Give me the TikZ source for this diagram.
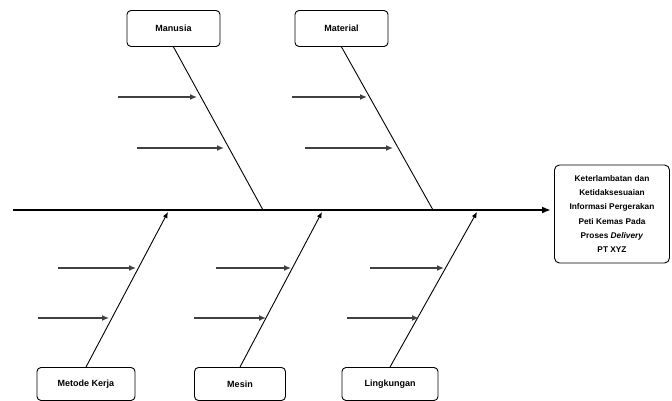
\documentclass[tikz,border=0pt]{standalone}
\usepackage{fontspec}
\setmainfont{Liberation Sans}
\usetikzlibrary{calc,arrows.meta}
\begin{document}
\begin{tikzpicture}[x=1pt,y=-1pt,
  catbox/.style={draw,rounded corners=4pt,line width=0.9pt,minimum height=36pt,inner sep=2pt,font=\fontsize{9}{10}\selectfont\bfseries},
  effbox/.style={draw,rounded corners=5pt,line width=0.9pt,minimum width=115pt,minimum height=98pt,inner sep=1pt,align=center,font=\fontsize{8.3}{14.3}\selectfont\bfseries},
  bone/.style={line width=0.9pt},
  bonearr/.style={line width=0.9pt,-{Latex[length=6pt,width=5pt]}},
  subarr/.style={line width=1.3pt,draw=black!75,-{Latex[length=7pt,width=6pt]}},
  spine/.style={line width=1.8pt,-{Latex[length=9pt,width=7pt]}}
]
\useasboundingbox (0,0) rectangle (672,401);
% effect
\node[effbox] (eff) at (612,214) {Keterlambatan dan\\Ketidaksesuaian\\Informasi Pergerakan\\Peti Kemas Pada\\Proses \textit{Delivery}\\PT XYZ};
\coordinate (tail) at (13,210);
\coordinate (head) at (551,210);
\draw[spine] (tail) -- (head);
% category boxes
\node[catbox,minimum width=93pt] (manusia) at (173.5,28.5) {Manusia};
\node[catbox,minimum width=93pt] (material) at (341.5,28.5) {Material};
\node[catbox,minimum width=98pt,minimum height=33pt] (metode) at (86,384) {Metode Kerja};
\node[catbox,minimum width=91pt,minimum height=33pt] (mesin) at (240,384) {Mesin};
\node[catbox,minimum width=96pt,minimum height=33pt] (lingk) at (390,384) {Lingkungan};
% spine points
\coordinate (pman) at (263,210);
\coordinate (pmat) at (433,210);
\coordinate (pmet) at (168,212);
\coordinate (pmes) at (322,212);
\coordinate (plin) at (477,212);
% bones
\draw[bone] (manusia.south) -- (pman);
\draw[bone] (material.south) -- (pmat);
\draw[bonearr] (metode.north) -- (pmet);
\draw[bonearr] (mesin.north) -- (pmes);
\draw[bonearr] (lingk.north) -- (plin);
% sub-cause arrows
\coordinate (a1s) at (118,97);  \coordinate (a1e) at (197,97);
\coordinate (a2s) at (137,148); \coordinate (a2e) at (224,148);
\coordinate (a3s) at (292,97);  \coordinate (a3e) at (367,97);
\coordinate (a4s) at (305,148); \coordinate (a4e) at (393,148);
\coordinate (b1s) at (58,268);  \coordinate (b1e) at (136,268);
\coordinate (b2s) at (38,318);  \coordinate (b2e) at (109,318);
\coordinate (b3s) at (216,268); \coordinate (b3e) at (291,268);
\coordinate (b4s) at (194,318); \coordinate (b4e) at (266,318);
\coordinate (b5s) at (370,268); \coordinate (b5e) at (444,268);
\coordinate (b6s) at (347,318); \coordinate (b6e) at (419,318);
\foreach \p in {a1,a2,a3,a4,b1,b2,b3,b4,b5,b6}
  \draw[subarr] (\p s) -- (\p e);
\end{tikzpicture}
\end{document}
